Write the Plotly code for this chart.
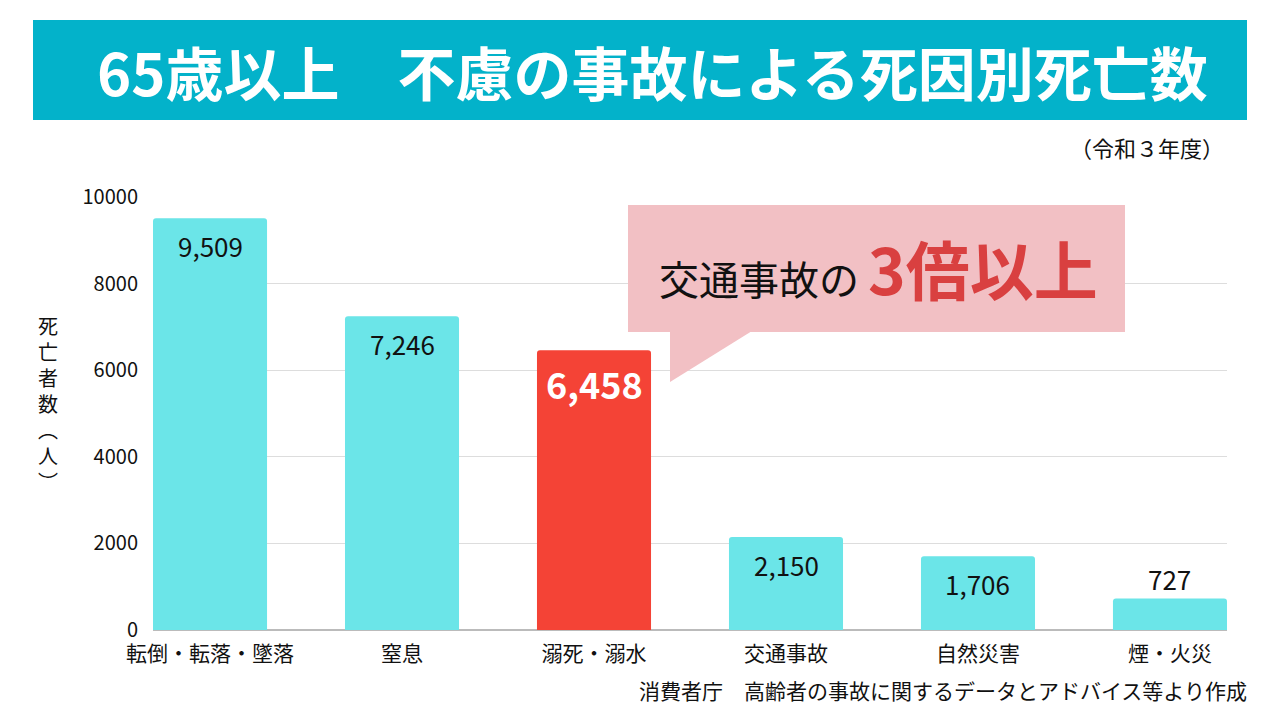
import plotly.graph_objects as go

categories = ["転倒・転落・墜落", "窒息", "溺死・溺水", "交通事故", "自然災害", "煙・火災"]
deaths = [9509, 7246, 6458, 2150, 1706, 727]
highlight = [False, False, True, False, False, False]
y_ticks = [0, 2000, 4000, 6000, 8000, 10000]

title_text = "65歳以上　不慮の事故による死因別死亡数"
subtitle_text = "（令和３年度）"
callout_plain = "交通事故の"
callout_bold = "3倍以上"
source_text = "消費者庁　高齢者の事故に関するデータとアドバイス等より作成"
y_title_chars = ["死", "亡", "者", "数", "︵", "人", "︶"]

W, H = 1280, 720
OFF = 8  # page body margin
FONT = "Noto Sans CJK JP"
CYAN = "#6BE5E8"
RED = "#F44336"
TEAL = "#03B2CA"
PINK = "#F2C0C4"
DARKRED = "#D94040"


def px(x):
    return (x - OFF) / W


def py(y):
    return 1 - (y - OFF) / H


colors = [RED if h else CYAN for h in highlight]

fig = go.Figure()
fig.add_trace(go.Bar(
    x=categories,
    y=deaths,
    marker=dict(color=colors, line=dict(width=0), cornerradius=3),
    width=0.594,
    hoverinfo="skip",
))

annotations = []
# value labels
for cat, val, h in zip(categories, deaths, highlight):
    label = f"{val:,}"
    if h:
        annotations.append(dict(x=cat, y=val, xref="x", yref="y", text=f"<b>{label}</b>",
                                showarrow=False, yanchor="top", yshift=-5,
                                font=dict(family=FONT, size=36, color="white")))
    elif val > 1500:
        annotations.append(dict(x=cat, y=val, xref="x", yref="y", text=label,
                                showarrow=False, yanchor="top", yshift=-7,
                                font=dict(family=FONT, size=26, color="#111111")))
    else:
        annotations.append(dict(x=cat, y=val, xref="x", yref="y", text=label,
                                showarrow=False, yanchor="bottom", yshift=0,
                                font=dict(family=FONT, size=26, color="#111111")))

# title
annotations.append(dict(x=px(652), y=py(71), xref="paper", yref="paper",
                        text=f"<b>{title_text}</b>", showarrow=False,
                        xanchor="center", yanchor="middle",
                        font=dict(family=FONT, size=58, color="white")))
# subtitle
annotations.append(dict(x=px(1226), y=py(147), xref="paper", yref="paper",
                        text=subtitle_text, showarrow=False,
                        xanchor="right", yanchor="middle",
                        font=dict(family=FONT, size=22, color="#111111")))
# callout text
annotations.append(dict(x=px(878), y=py(267), xref="paper", yref="paper",
                        text=(f"<span style='font-size:40px'>{callout_plain}\u00a0</span>"
                              f"<span style='font-size:64px;color:{DARKRED}'><b>{callout_bold}</b></span>"),
                        showarrow=False, xanchor="center", yanchor="middle",
                        font=dict(family=FONT, size=40, color="#111111")))
# source
annotations.append(dict(x=px(1249), y=py(690), xref="paper", yref="paper",
                        text=source_text, showarrow=False,
                        xanchor="right", yanchor="middle",
                        font=dict(family=FONT, size=21, color="#111111")))
# vertical y-axis title
annotations.append(dict(x=px(48), y=py(403), xref="paper", yref="paper",
                        text="<br>".join(y_title_chars), showarrow=False,
                        xanchor="center", yanchor="middle",
                        font=dict(family=FONT, size=20, color="#111111")))

shapes = [
    # title banner
    dict(type="rect", xref="paper", yref="paper", x0=px(33), x1=px(1247), y0=py(120), y1=py(20),
         fillcolor=TEAL, line=dict(width=0), layer="below"),
    # callout box
    dict(type="rect", xref="paper", yref="paper", x0=px(628), x1=px(1125), y0=py(332), y1=py(205),
         fillcolor=PINK, line=dict(width=0), layer="above"),
    # callout tail
    dict(type="path", xref="paper", yref="paper",
         path=f"M {px(670)},{py(331)} L {px(752)},{py(331)} L {px(670)},{py(382)} Z",
         fillcolor=PINK, line=dict(width=0), layer="above"),
]

fig.update_layout(
    width=W, height=H,
    margin=dict(l=0, r=0, t=0, b=0),
    paper_bgcolor="white", plot_bgcolor="white",
    showlegend=False,
    font=dict(family=FONT, color="#111111"),
    annotations=annotations,
    shapes=shapes,
    xaxis=dict(domain=[px(153), px(1227)], range=[-0.297, 5.297], type="category",
               showgrid=False, showline=False, ticks="", tickfont=dict(size=21, color="#111111"),
               ticklabelstandoff=9, fixedrange=True, automargin=False),
    yaxis=dict(domain=[py(630), py(197)], range=[0, 10000], tickvals=y_ticks,
               ticktext=[str(v) for v in y_ticks],
               showgrid=True, gridcolor="#DDDDDD", gridwidth=1,
               zeroline=True, zerolinecolor="#BBBBBB", zerolinewidth=1.5,
               showline=False, ticks="", tickfont=dict(size=20, color="#111111"),
               ticklabelstandoff=14, fixedrange=True, automargin=False),
)

fig.write_html("out.html")
